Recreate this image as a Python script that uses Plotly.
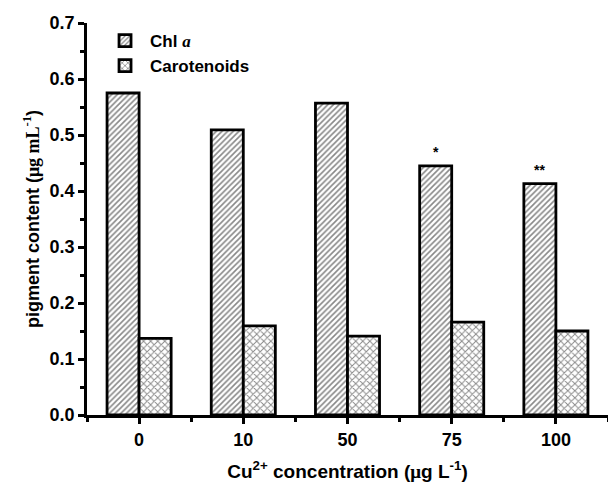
import plotly.graph_objects as go

categories = ["0", "10", "50", "75", "100"]
chl_a = [0.575, 0.509, 0.557, 0.445, 0.413]
carotenoids = [0.137, 0.159, 0.141, 0.166, 0.150]
significance = ["", "", "", "*", "**"]

xpos = list(range(len(categories)))
FONT = "Liberation Sans, Arial, sans-serif"

fig = go.Figure()
fig.add_trace(go.Bar(
    x=xpos, y=chl_a, name="<b>Chl <i style='font-family:Liberation Serif'>a</i></b>",
    marker=dict(color="white", line=dict(color="black", width=2.8),
                pattern=dict(shape="/", size=4, solidity=0.4, fgcolor="#111111", bgcolor="white")),
))
fig.add_trace(go.Bar(
    x=xpos, y=carotenoids, name="<b>Carotenoids</b>",
    marker=dict(color="white", line=dict(color="black", width=2.8),
                pattern=dict(shape="x", size=5, solidity=0.35, fgcolor="#111111", bgcolor="white")),
))

for i, s in enumerate(significance):
    if s:
        fig.add_annotation(x=i - 0.155, y=chl_a[i], text="<b>" + s + "</b>", showarrow=False,
                           yanchor="bottom", yshift=4, font=dict(size=14, color="black", family=FONT))

fig.update_layout(
    width=608, height=486,
    margin=dict(l=87, r=0, t=23, b=71),
    paper_bgcolor="white", plot_bgcolor="white",
    barmode="group", bargap=0.385, bargroupgap=0,
    font=dict(family=FONT, size=18, color="black"),
    showlegend=True,
    legend=dict(x=0.025, y=1.0, xanchor="left", yanchor="top", bgcolor="rgba(0,0,0,0)",
                font=dict(size=17, family=FONT), itemwidth=40, tracegroupgap=0),
)
fig.update_xaxes(
    range=[-0.5, 4.5], tickvals=xpos, ticktext=["<b>%s</b>" % c for c in categories],
    showline=True, linecolor="black", linewidth=2.8, mirror=False, showgrid=False, zeroline=False,
    ticks="outside", ticklen=6, tickwidth=2.8, tickcolor="black",
    tickfont=dict(size=18),
    minor=dict(tickmode="linear", tick0=-0.5, dtick=1, ticks="outside", ticklen=4, tickwidth=2.8, tickcolor="black"),
    title=dict(text="<b>Cu<sup>2+</sup> concentration (<span style='font-family:Liberation Serif'>μ</span>g L<sup>-1</sup>)</b>",
               font=dict(size=19), standoff=17),
)
fig.update_yaxes(
    range=[0, 0.7], dtick=0.1, tickformat=".1f",
    showline=True, linecolor="black", linewidth=2.8, showgrid=False, zeroline=False,
    ticks="outside", ticklen=6, tickwidth=2.8, tickcolor="black",
    tickfont=dict(size=18), tickprefix="<b>", ticksuffix="</b>",
    minor=dict(dtick=0.05, ticks="outside", ticklen=4, tickwidth=2.8, tickcolor="black"),
    title=dict(text="<b>pigment content (<span style='font-family:Liberation Serif'>μg mL<sup>-1</sup></span>)</b>",
               font=dict(size=18), standoff=6),
)

fig.write_html("out.html")
